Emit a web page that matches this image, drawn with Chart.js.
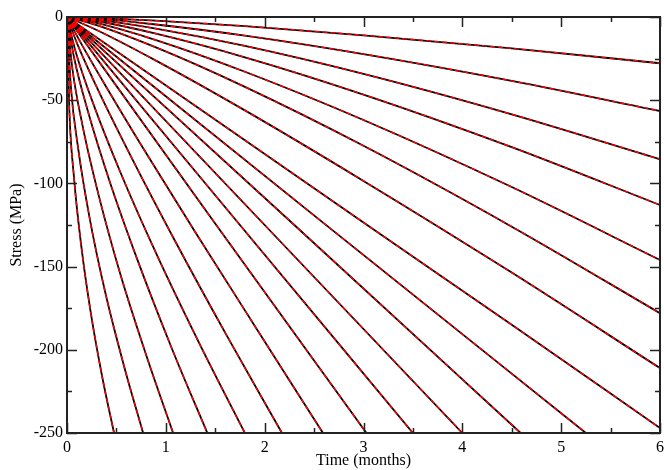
<!DOCTYPE html>
<html>
<head>
<meta charset="utf-8">
<script src="https://cdn.jsdelivr.net/npm/chart.js@4/dist/chart.umd.min.js"></script>
<style>
  body { margin: 0; background: #fff; }
  #c { display: block; }
</style>
</head>
<body>
<canvas id="c" width="664" height="470"></canvas>
<script>
// each curve: [time (months), stress (MPa)]
var s0 = [[0, 0], [6, 0]];
var sA = [[0, 0], [0.3, -0.5], [0.9, -2.2], [1.8, -5.5], [3, -11], [4.5, -18.9], [6, -27.8]];
var sB = [[0, 0], [0.3, -1], [0.9, -4.5], [1.8, -11.2], [3, -22.3], [4.5, -38.4], [6, -56.5]];
var sC = [[0, 0], [0.3, -1.6], [0.9, -7], [1.8, -17.4], [3, -34.2], [4.5, -58.5], [6, -85.5]];
var sD = [[0, 0], [0.3, -2.4], [0.9, -10], [1.8, -24.2], [3, -46.6], [4.5, -78.2], [6, -113]];
var sE = [[0, 0], [0.3, -3.6], [0.9, -13.9], [1.8, -32.9], [3, -61.9], [4.5, -102.2], [6, -146]];
var sF = [[0, 0], [0.3, -4.9], [0.9, -18.3], [1.8, -42], [3, -77.4], [4.5, -126], [6, -178]];
var sG = [[0, 0], [0.3, -7.8], [0.9, -26.2], [1.8, -56.1], [3, -98.5], [4.5, -153.6], [6, -211]];
var sH = [[0, 0], [1.8, -74], [3, -123.5], [4.5, -185], [6, -247]];
var sI = [[0, 0], [2.6, -124], [5.25, -250]];
var sJ = [[0, 0], [2.3, -125], [4.59, -250]];
var sK = [[0, 0], [2, -125], [4.0, -250]];
var sL = [[0, 0], [1.75, -125], [3.5, -250]];
var sM = [[0, 0], [1.51, -125], [3.03, -250]];
var sN = [[0, 0], [0.13, -14.5], [0.39, -41.3], [0.78, -79.8], [1.3, -129.5], [1.95, -190.3], [2.59, -250]];
var sO = [[0, 0], [0.109, -16.9], [0.326, -45.3], [0.653, -84.5], [1.088, -134], [1.631, -193], [2.175, -250]];
var sP = [[0, 0], [0.09, -21.4], [0.27, -52.8], [0.54, -93.3], [0.9, -141.8], [1.35, -197.5], [1.8, -250]];
var sQ = [[0, 0], [0.071, -24.2], [0.213, -57], [0.426, -97.8], [0.71, -145.5], [1.065, -199.8], [1.42, -250]];
var sR = [[0, 0], [0.054, -30.8], [0.161, -66.3], [0.322, -107.5], [0.537, -154], [0.806, -204], [1.074, -250]];
var sS = [[0, 0], [0.0385, -41.5], [0.1155, -80], [0.231, -121.5], [0.385, -165], [0.578, -210], [0.77, -250]];
var sT = [[0, 0], [0.0238, -56], [0.0714, -96.8], [0.143, -137], [0.238, -176.8], [0.357, -216.5], [0.476, -250]];

var curves = [s0, sA, sB, sC, sD, sE, sF, sG, sH, sI, sJ, sK, sL, sM, sN, sO, sP, sQ, sR, sS, sT];
var xTicks = [0, 1, 2, 3, 4, 5, 6];
var yTicks = [0, -50, -100, -150, -200, -250];

var datasets = [];
curves.forEach(function (c) {
    var pts = c.map(function (p) { return { x: p[0], y: p[1] }; });
    datasets.push({ data: pts, borderColor: '#000', borderWidth: 1.8, pointRadius: 0, showLine: true,
        cubicInterpolationMode: 'monotone', order: 2 });
    datasets.push({ data: pts, borderColor: '#ff0000', borderWidth: 1.4, borderDash: [5, 3], pointRadius: 0,
        showLine: true, cubicInterpolationMode: 'monotone', order: 1 });
});

// frame and inward ticks on all four sides, like the original plot
var frameTicks = {
    id: 'frameTicks',
    afterDraw: function (chart) {
        var ctx = chart.ctx, a = chart.chartArea, xs = chart.scales.x, ys = chart.scales.y;
        ctx.save();
        ctx.strokeStyle = '#222';
        ctx.lineWidth = 1.5;
        var i, px, py;
        for (i = 0; i <= 12; i++) {
            px = Math.round(xs.getPixelForValue(i * 0.5)) + 0.5;
            var len = i % 2 === 0 ? 10 : 5;
            ctx.beginPath();
            ctx.moveTo(px, a.bottom); ctx.lineTo(px, a.bottom - len);
            ctx.moveTo(px, a.top); ctx.lineTo(px, a.top + len);
            ctx.stroke();
        }
        for (i = 0; i <= 10; i++) {
            py = Math.round(ys.getPixelForValue(-i * 25)) + 0.5;
            var l2 = i % 2 === 0 ? 10 : 5;
            ctx.beginPath();
            ctx.moveTo(a.left, py); ctx.lineTo(a.left + l2, py);
            ctx.moveTo(a.right, py); ctx.lineTo(a.right - l2, py);
            ctx.stroke();
        }
        ctx.lineWidth = 2;
        ctx.strokeStyle = '#222';
        ctx.strokeRect(a.left, a.top, a.right - a.left, a.bottom - a.top);
        ctx.restore();
    }
};

var serif = { family: "'Liberation Serif', 'DejaVu Serif', serif", size: 16 };

new Chart(document.getElementById('c').getContext('2d'), {
    type: 'scatter',
    data: { datasets: datasets },
    options: {
        responsive: false, animation: false, devicePixelRatio: 1,
        layout: { padding: { top: 17, right: 4, left: 0, bottom: 0 } },
        plugins: { legend: { display: false }, tooltip: { enabled: false } },
        scales: {
            x: {
                type: 'linear', min: 0, max: 6,
                afterBuildTicks: function (s) { s.ticks = xTicks.map(function (v) { return { value: v }; }); },
                afterFit: function (s) { s.height = 37; s.paddingLeft = 0; s.paddingRight = 0; },
                ticks: { font: serif, color: '#000', padding: 5, maxRotation: 0 },
                grid: { drawOnChartArea: false, drawTicks: false },
                border: { display: false },
                title: { display: true, text: 'Time (months)', font: serif, color: '#000', padding: { top: 0, bottom: 0 } }
            },
            y: {
                type: 'linear', min: -250, max: 0,
                afterBuildTicks: function (s) { s.ticks = yTicks.map(function (v) { return { value: v }; }); },
                afterFit: function (s) { s.width = 67; s.paddingTop = 0; s.paddingBottom = 0; },
                ticks: { font: serif, color: '#000', padding: 4 },
                grid: { drawOnChartArea: false, drawTicks: false },
                border: { display: false },
                title: { display: true, text: 'Stress (MPa)', font: serif, color: '#000', padding: { top: 7, bottom: 0 } }
            }
        }
    },
    plugins: [frameTicks]
});
</script>
</body>
</html>
